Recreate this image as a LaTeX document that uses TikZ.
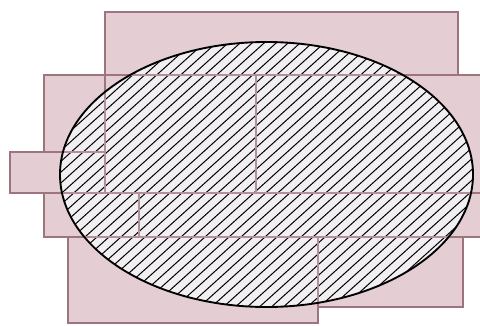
\documentclass[tikz,border=0pt]{standalone}
\usepackage{tikz}
\definecolor{brickfill}{RGB}{228,205,211}
\definecolor{brickedge}{RGB}{158,116,127}
\definecolor{ovalfill}{RGB}{241,239,241}

\begin{document}
\begin{tikzpicture}[
  x=0.03cm, y=0.03cm,
  brick/.style={fill=brickfill,draw=brickedge,line width=1.2pt},
  seam/.style={draw=brickedge!80,line width=1pt},
  hatchline/.style={line width=0.85pt,black},
  oval/.style={line width=1.6pt,black}
]
  \useasboundingbox[fill=white] (0,0) rectangle (480,325);
  % pink blocks, row by row from the top
  \draw[brick] (105,313) rectangle (458,250);
  \draw[brick] (44,250) rectangle (105,173);
  \draw[brick] (105,250) rectangle (256,132);
  \draw[brick] (256,250) rectangle (484,132);
  \draw[brick] (10,173) rectangle (105,132);
  \draw[brick] (44,132) rectangle (139,88);
  \draw[brick] (139,132) rectangle (484,88);
  \draw[brick] (68,88) rectangle (318,2);
  \draw[brick] (318,88) rectangle (463,18);
  % hatched oval
  \fill[ovalfill] (266.5,150.5) ellipse [x radius=206.5, y radius=132.5];
  \begin{scope}
    \clip (266.5,150.5) ellipse [x radius=206.5, y radius=132.5];
    \foreach \a in {-320,-308,...,480}
      \draw[hatchline] (\a,15) -- ++(305,275);
    \draw[seam] (105,313) rectangle (458,250);
    \draw[seam] (44,250) rectangle (105,173);
    \draw[seam] (105,250) rectangle (256,132);
    \draw[seam] (256,250) rectangle (484,132);
    \draw[seam] (10,173) rectangle (105,132);
    \draw[seam] (44,132) rectangle (139,88);
    \draw[seam] (139,132) rectangle (484,88);
    \draw[seam] (68,88) rectangle (318,2);
    \draw[seam] (318,88) rectangle (463,18);
  \end{scope}
  \draw[oval] (266.5,150.5) ellipse [x radius=206.5, y radius=132.5];
\end{tikzpicture}
\end{document}
